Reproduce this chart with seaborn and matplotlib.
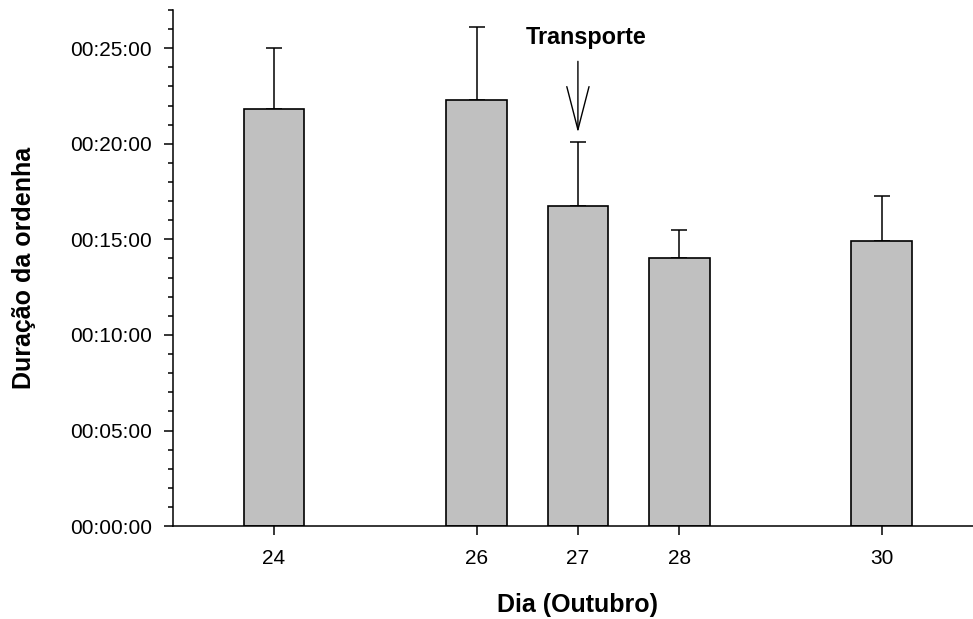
import matplotlib
matplotlib.use("Agg")
import matplotlib.pyplot as plt
from matplotlib.ticker import FixedLocator, MultipleLocator, FuncFormatter
import seaborn as sns
import pandas as pd

# Milking duration per day (minutes), with the upper standard deviation
days = [24, 26, 27, 28, 30]
duration_min = [21.83, 22.31, 16.73, 14.04, 14.93]
sd_min = [3.17, 3.81, 3.37, 1.46, 2.34]

day_ticks = [24, 26, 27, 28, 30]
minute_ticks = [0, 5, 10, 15, 20, 25]

transport_day = 27
transport_label = "Transporte"

sns.set_style("ticks")
plt.rcParams["font.family"] = ["Liberation Sans", "DejaVu Sans"]
plt.rcParams["text.color"] = "black"
plt.rcParams["axes.labelcolor"] = "black"

df = pd.DataFrame({"dia": days, "duracao": duration_min, "sd": sd_min})

fig = plt.figure(figsize=(9.73, 6.19), dpi=100)
ax = fig.add_axes([0.1775, 0.150, 0.8225, 0.834])

sns.barplot(data=df, x="dia", y="duracao", native_scale=True, width=0.6,
            color="#c0c0c0", edgecolor="black", linewidth=1.2,
            saturation=1, errorbar=None, ax=ax, zorder=2)

ax.errorbar(df["dia"], df["duracao"], yerr=[[0] * len(df), df["sd"]],
            fmt="none", ecolor="black", elinewidth=1.1, capsize=5.8,
            capthick=1.1, zorder=1)

ax.set_xlim(23, 30.9)
ax.set_ylim(0, 27)

ax.xaxis.set_major_locator(FixedLocator(day_ticks))
ax.set_xticklabels([str(d) for d in day_ticks])
ax.yaxis.set_major_locator(FixedLocator(minute_ticks))
ax.yaxis.set_minor_locator(MultipleLocator(1))
ax.yaxis.set_major_formatter(FuncFormatter(lambda v, p: f"00:{int(round(v)):02d}:00"))

ax.tick_params(axis="both", which="major", direction="out", length=6.5,
               width=1.1, color="black", labelsize=15, labelcolor="black")
ax.tick_params(axis="y", which="major", pad=8.4)
ax.tick_params(axis="x", which="major", pad=10)
ax.tick_params(axis="y", which="minor", direction="out", length=3.8,
               width=1.1, color="black")

for side in ("top", "right"):
    ax.spines[side].set_visible(False)
for side in ("left", "bottom"):
    ax.spines[side].set_color("black")
    ax.spines[side].set_linewidth(1.1)

ax.set_xlabel("Dia (Outubro)", fontsize=18, fontweight="bold")
ax.xaxis.set_label_coords(0.5064, -0.153)
ax.xaxis.label.set_va("center")
ax.set_ylabel("Duração da ordenha", fontsize=18, fontweight="bold")
ax.yaxis.set_label_coords(-0.1857, 0.5)
ax.yaxis.label.set_va("center")

# Arrow marking the transport day
ax.annotate("", xy=(transport_day, 20.59), xytext=(transport_day, 24.31),
            arrowprops=dict(arrowstyle="->,head_length=3.1,head_width=0.8",
                            mutation_scale=10, color="black", lw=1.0,
                            shrinkA=0, shrinkB=0))
ax.text(transport_day + 0.08, 25.56, transport_label, ha="center", va="center",
        fontsize=16.8, fontweight="bold")

fig.savefig("out.png", dpi=100)
